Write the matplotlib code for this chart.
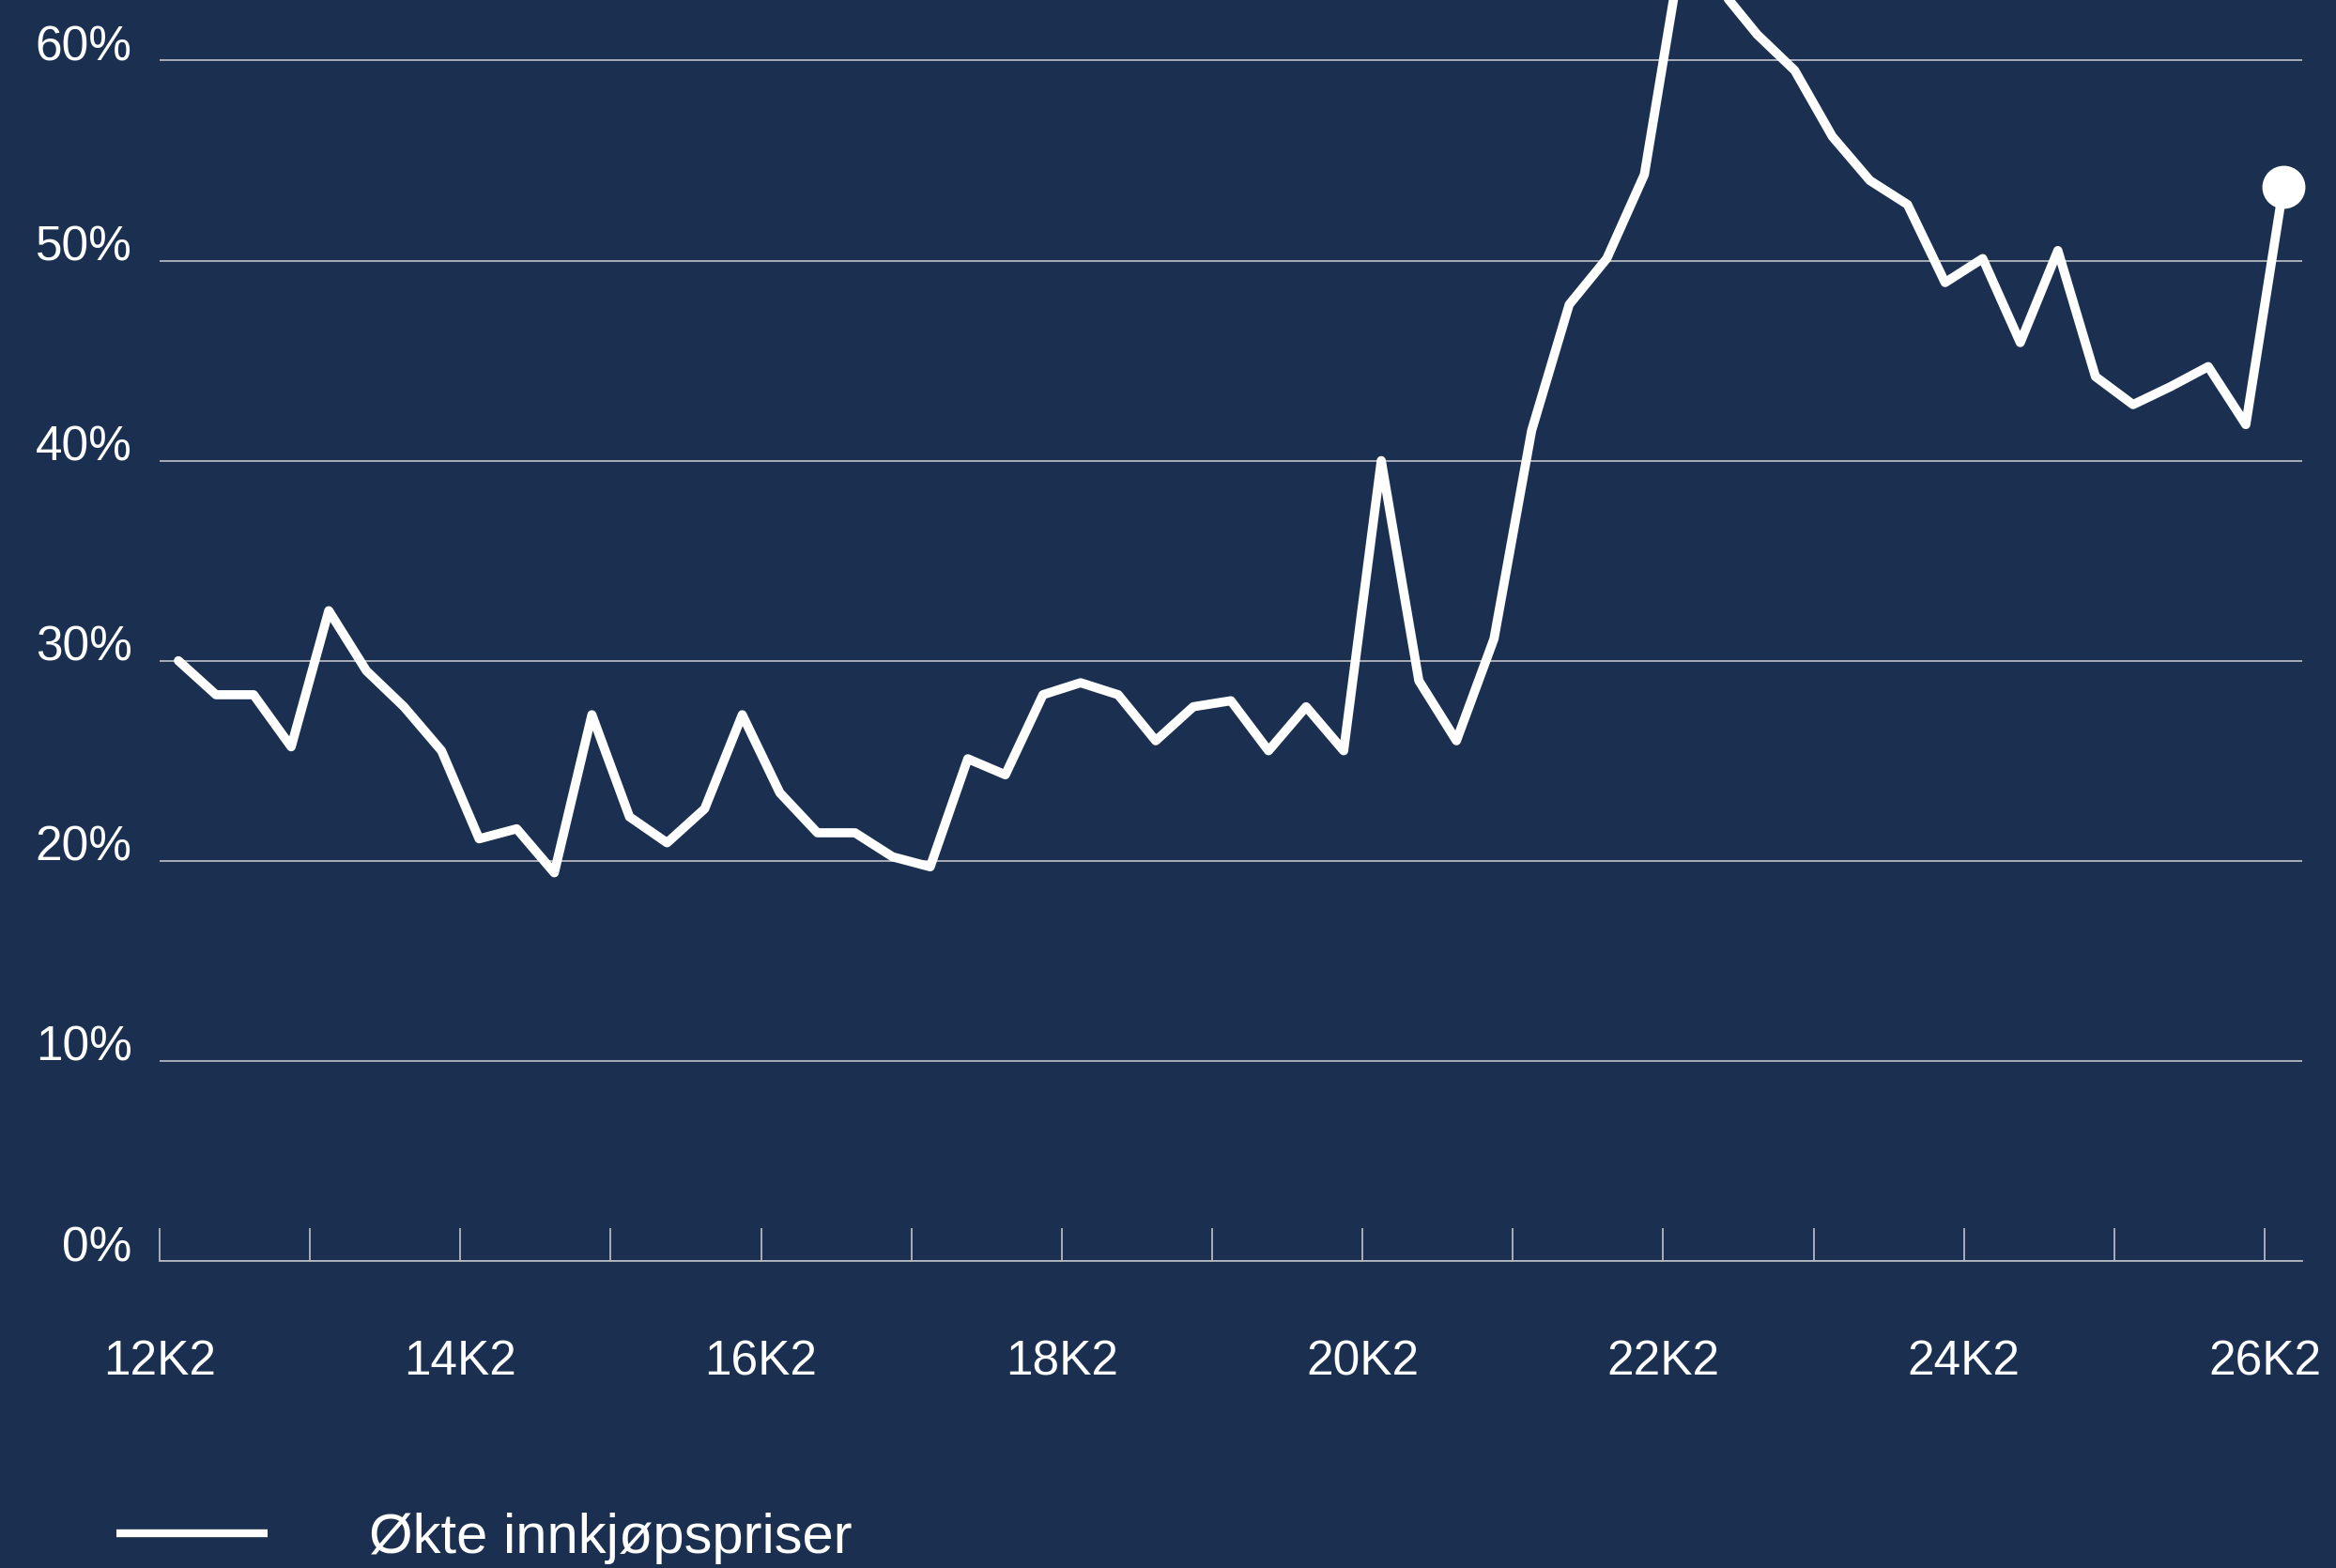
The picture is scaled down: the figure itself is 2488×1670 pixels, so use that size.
import numpy as np
import matplotlib
matplotlib.use("Agg")
import matplotlib.pyplot as plt
from matplotlib.lines import Line2D

# ---- data ----
quarters = [f"{y}K{q}" for y in range(12, 27) for q in range(1, 5)]
quarters = quarters[1:quarters.index("26K2") + 1]  # 12K2 .. 26K2
values = [30.0, 28.3, 28.3, 25.7, 32.5, 29.5, 27.7, 25.5, 21.1, 21.6,
          19.4, 27.3, 22.2, 20.9, 22.6, 27.3, 23.4, 21.4, 21.4, 20.2,
          19.7, 25.1, 24.3, 28.3, 28.9, 28.3, 26.0, 27.7, 28.0, 25.5,
          27.7, 25.5, 40.0, 29.0, 26.0, 31.1, 41.5, 47.8, 50.1, 54.3,
          65.6, 63.6, 61.3, 59.5, 56.2, 54.0, 52.8, 48.9, 50.1, 45.9,
          50.5, 44.2, 42.8, 43.7, 44.7, 41.8, 53.7]
series_name = "Økte innkjøpspriser"
ytick_values = [0, 10, 20, 30, 40, 50, 60]
ytick_labels = ["0%", "10%", "20%", "30%", "40%", "50%", "60%"]
xtick_labels = ["12K2", "", "14K2", "", "16K2", "", "18K2", "", "20K2", "",
                "22K2", "", "24K2", "", "26K2"]

BG = "#1b3050"
GRID = "#b3b8c0"
FONT = ["Liberation Sans", "DejaVu Sans"]

plt.rcParams["font.family"] = FONT

fig = plt.figure(figsize=(24.88, 16.70), dpi=100, facecolor=BG)
ax = fig.add_axes([170 / 2488, 327 / 1670, (2452 - 170) / 2488, 1 - 327 / 1670])
ax.set_facecolor(BG)

x = np.arange(len(values))
ax.plot(x, values, color="white", lw=7, solid_joinstyle="round",
        solid_capstyle="round", zorder=3)
ax.plot(x[-1:], values[-1:], "o", color="white", markersize=32, zorder=4,
        clip_on=False)

ax.set_xlim(-0.5, len(values) - 0.5)
ax.set_ylim(0, 1343 / 21.31)

ax.set_yticks(ytick_values)
ax.set_yticklabels(ytick_labels)
ax.yaxis.grid(True, color=GRID, lw=1.3)
ax.set_axisbelow(True)
ax.tick_params(axis="y", length=0, pad=21, labelsize=37, labelcolor="white")
for lab in ax.get_yticklabels():
    lab.set_va("baseline")

xt = np.arange(-0.5, len(values), 4)
ax.set_xticks(xt)
ax.set_xticklabels(xtick_labels)
ax.tick_params(axis="x", direction="in", length=25, width=1.3, color=GRID,
               pad=60, labelsize=37, labelcolor="white")

for s in ["top", "right", "left"]:
    ax.spines[s].set_visible(False)
ax.spines["bottom"].set_color(GRID)
ax.spines["bottom"].set_linewidth(1.3)

handle = Line2D([], [], color="white", lw=6, solid_capstyle="butt")
leg = fig.legend([handle], [series_name], loc="center left",
                 bbox_to_anchor=(124 / 2488, 1 - 1638 / 1670), frameon=False,
                 fontsize=43, handlelength=2.7, handletextpad=1.8,
                 borderpad=0, borderaxespad=0)
for t in leg.get_texts():
    t.set_color("white")

fig.savefig("out.png", dpi=100, facecolor=BG)
